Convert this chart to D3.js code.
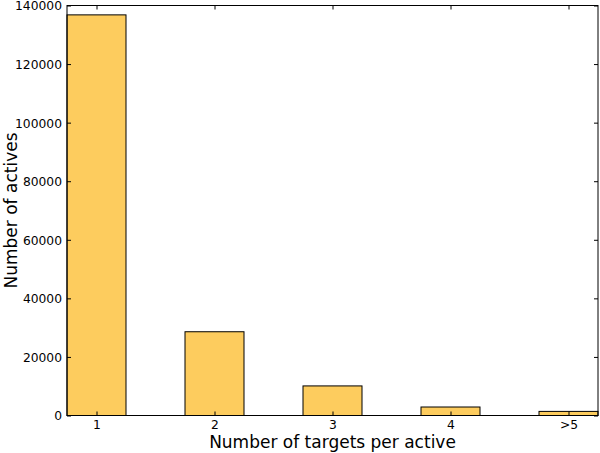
<!DOCTYPE html>
<html>
<head>
<meta charset="utf-8">
<script src="https://cdn.jsdelivr.net/npm/d3@7"></script>
<style>
  body { margin: 0; background: #fff; }
  svg text { font-family: "DejaVu Sans", sans-serif; fill: #000; }
</style>
</head>
<body>
<div id="grafico"></div>
<script>
const categorias = ['1', '2', '3', '4', '>5'];
const valores = [136800, 28600, 10100, 2900, 1400];
const ticksY = [0, 20000, 40000, 60000, 80000, 100000, 120000, 140000];

const width = 600, height = 453;
const margin = { top: 5.5, right: 2, bottom: 37.5, left: 67 };
const iw = width - margin.left - margin.right;
const ih = height - margin.top - margin.bottom;

const svg = d3.select('#grafico')
  .append('svg')
  .attr('width', width)
  .attr('height', height);

const g = svg.append('g')
  .attr('transform', `translate(${margin.left},${margin.top})`);

// bares en 0..4, ancho 0.5, xlim 0..4.5 (como matplotlib)
const x = d3.scaleLinear().domain([0, 4.5]).range([0, iw]);
const y = d3.scaleLinear().domain([0, 140000]).range([ih, 0]);

g.selectAll('rect.bar')
  .data(valores)
  .join('rect')
  .attr('class', 'bar')
  .attr('x', (d, i) => x(i))
  .attr('y', d => y(d))
  .attr('width', x(0.5) - x(0))
  .attr('height', d => y(0) - y(d))
  .attr('fill', '#fdcc5e')
  .attr('stroke', '#000')
  .attr('stroke-width', 1);

// eje Y
const ejeY = g.append('g')
  .call(d3.axisLeft(y).tickValues(ticksY).tickSize(-4).tickPadding(5).tickFormat(d3.format('d')));
ejeY.select('.domain').remove();
ejeY.attr('font-family', null).attr('font-size', null);
ejeY.selectAll('text').style('font-size', '12.3px').attr('dy', '0.36em');

// ticks a la derecha
const ejeYDer = g.append('g')
  .attr('transform', `translate(${iw},0)`)
  .call(d3.axisRight(y).tickValues(ticksY).tickSize(-4).tickFormat(''));
ejeYDer.select('.domain').remove();

// eje X
const centros = categorias.map((c, i) => i + 0.25);
const ejeX = g.append('g')
  .attr('transform', `translate(0,${ih})`)
  .call(d3.axisBottom(x).tickValues(centros).tickSize(-4).tickPadding(5)
    .tickFormat((d, i) => categorias[i]));
ejeX.select('.domain').remove();
ejeX.attr('font-family', null).attr('font-size', null);
ejeX.selectAll('text').style('font-size', '12.3px');

const ejeXSup = g.append('g')
  .call(d3.axisTop(x).tickValues(centros).tickSize(-4).tickFormat(''));
ejeXSup.select('.domain').remove();

// marco
g.append('rect')
  .attr('x', 0).attr('y', 0)
  .attr('width', iw).attr('height', ih)
  .attr('fill', 'none')
  .attr('stroke', '#000')
  .attr('stroke-width', 1);

svg.append('text')
  .attr('x', margin.left + iw / 2)
  .attr('y', 448)
  .attr('text-anchor', 'middle')
  .style('font-size', '17px')
  .text('Number of targets per active');

svg.append('text')
  .attr('transform', `translate(17,${margin.top + ih / 2}) rotate(-90)`)
  .attr('text-anchor', 'middle')
  .style('font-size', '17px')
  .text('Number of actives');
</script>
</body>
</html>
